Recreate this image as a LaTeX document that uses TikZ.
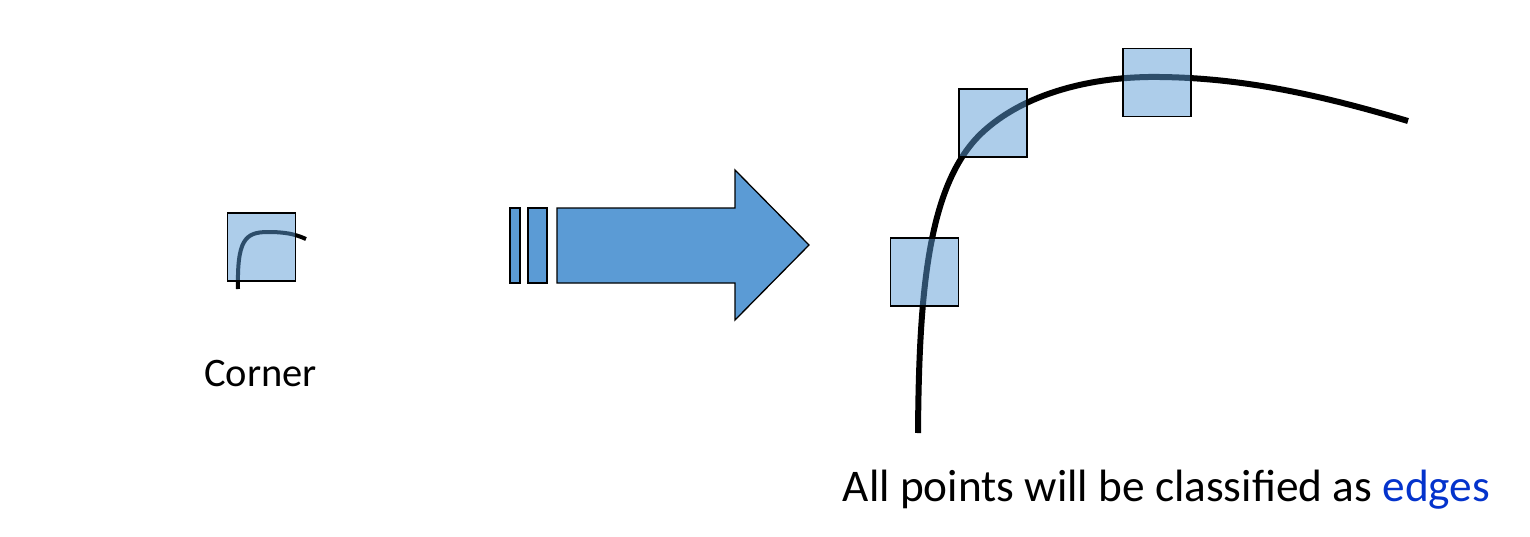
\documentclass[tikz,border=0pt]{standalone}
\usepackage{fontspec}
\setmainfont{Carlito}
\usepackage{tikz}
\usetikzlibrary{calc}
\usepackage{xcolor}
\definecolor{winblue}{RGB}{91,155,213}
\definecolor{edgeblue}{RGB}{4,51,204}

\begin{document}
\begin{tikzpicture}[x=1pt, y=-1pt]
  \tikzset{
    window/.style={draw=black, line width=1.3pt, fill=winblue, fill opacity=0.5,
      minimum size=68pt, inner sep=0pt, outer sep=0pt},
    bar/.style={draw=black, line width=1.3pt, fill=winblue}
  }
  \useasboundingbox (0,0) rectangle (1530,536);

  % small corner
  \draw[line width=4pt] (238,289) .. controls (237,240) and (245,232) .. (268,232)
    .. controls (285,232) and (295,234) .. (306,239);
  \node[window] (small) at (261.5,247) {};
  \node[font=\fontsize{40.5}{48}\selectfont] (corner) at (260.5,373) {Corner};

  % arrow
  \draw[bar] (510,208) rectangle (520,283);
  \draw[bar] (528,208) rectangle (547,283);
  \draw[bar] (557,208) -- (735,208) -- (735,170) -- (809,245) -- (735,320)
    -- (735,283) -- (557,283) -- cycle;

  % big curve
  \draw[line width=6pt] (918,433) .. controls (919,290) and (928,180) .. (985,130)
    .. controls (1030,90) and (1100,76) .. (1160,77)
    .. controls (1250,78) and (1330,98) .. (1408,121);
  \node[window] (winA) at (924.5,272) {};
  \node[window] (winB) at (993,123) {};
  \node[window] (winC) at (1157,82.5) {};

  \node[font=\fontsize{45.3}{54}\selectfont] (caption) at (1166.5,490)
    {All points will be classified as \textcolor{edgeblue}{edges}};
\end{tikzpicture}
\end{document}
